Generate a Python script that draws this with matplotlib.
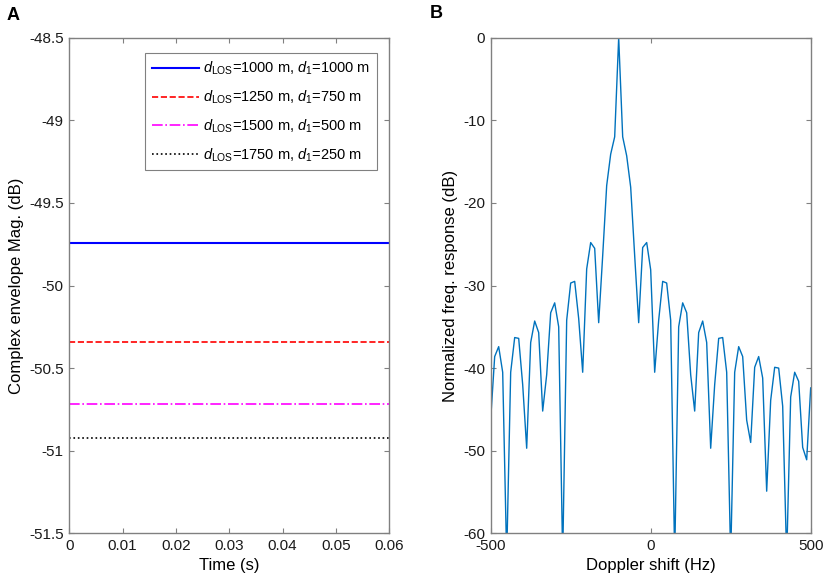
import numpy as np
import matplotlib
matplotlib.use('Agg')
import matplotlib.pyplot as plt
from matplotlib.ticker import FuncFormatter

plt.rcParams['font.family'] = ['Liberation Sans', 'DejaVu Sans']
plt.rcParams['mathtext.fontset'] = 'custom'
plt.rcParams['mathtext.rm'] = 'Liberation Sans'
plt.rcParams['mathtext.it'] = 'Liberation Sans:italic'
plt.rcParams['axes.unicode_minus'] = False

# Panel A: complex envelope magnitude, constant over time
time_s = [0.0, 0.06]
env_labels = ['$d_{\\mathrm{LOS}}$=1000 m, $d_1$=1000 m',
              '$d_{\\mathrm{LOS}}$=1250 m, $d_1$=750 m',
              '$d_{\\mathrm{LOS}}$=1500 m, $d_1$=500 m',
              '$d_{\\mathrm{LOS}}$=1750 m, $d_1$=250 m']
env_db = [-49.74, -50.34, -50.715, -50.925]

# Panel B: normalized frequency response, 12.5 Hz steps from -500 to 500 Hz
doppler_hz = np.arange(-500, 500.1, 12.5)
left_side = [-12, -14.1, -17.9, -26.4, -34.5, -25.5, -24.8, -28, -40.5, -34,
             -29.5, -29.7, -34.2, -63, -35, -32.1, -33.3, -40.8, -45.2, -35.7,
             -34.3, -36.9, -49.7, -42, -36.4, -36.3, -40.5, -63, -40.5, -37.4,
             -38.6, -46.2]
right_side = [-12, -14.3, -18.1, -26.4, -34.5, -25.4, -24.8, -28.1, -40.5, -34.2,
              -29.5, -29.7, -34.2, -63, -35, -32.1, -33.3, -40.8, -45.2, -35.7,
              -34.3, -36.9, -49.7, -42, -36.4, -36.3, -40.5, -63, -40.5, -37.4,
              -38.6, -46.3, -49, -39.9, -38.6, -41.2, -54.9, -43.9, -39.9, -40,
              -44.6, -63, -43.5, -40.5, -41.6, -49.6, -51.1, -42.4]
freq_resp_db = left_side[::-1] + [0] + right_side

fig = plt.figure(figsize=(8.29, 5.88), dpi=100)
ax1 = fig.add_axes([0.0836, 0.093, 0.386, 0.8429])
ax2 = fig.add_axes([0.5919, 0.093, 0.386, 0.8429])

axis_col = '#808080'
for ax in (ax1, ax2):
    for sp in ax.spines.values():
        sp.set_color(axis_col)
        sp.set_linewidth(1.0)
    ax.tick_params(direction='in', length=3.6, width=0.8, color=axis_col,
                   top=True, right=True, labelsize=11, labelcolor='#1a1a1a', pad=4)

styles = [dict(color='#0000ff', ls='-', lw=1.5),
          dict(color='#ff0000', ls='--', lw=1.2),
          dict(color='#ff00ff', ls='-.', lw=1.2),
          dict(color='#000000', ls=':', lw=1.2)]
for val, lab, st in zip(env_db, env_labels, styles):
    ax1.plot(time_s, [val, val], label=lab, **st)
ax1.set_xlim(0, 0.06)
ax1.set_ylim(-51.5, -48.5)
ax1.set_xticks(np.arange(0, 0.061, 0.01))
ax1.set_yticks(np.arange(-51.5, -48.4, 0.5))
ax1.xaxis.set_major_formatter(FuncFormatter(lambda v, p: '%g' % round(v, 4)))
ax1.yaxis.set_major_formatter(FuncFormatter(lambda v, p: '%g' % round(v, 4)))
ax1.set_xlabel('Time (s)', fontsize=12)
ax1.set_ylabel('Complex envelope Mag. (dB)', fontsize=12)
leg = ax1.legend(loc='upper right', bbox_to_anchor=(376.7 / 829, 1 - 53.3 / 588),
                 bbox_transform=fig.transFigure, borderaxespad=0,
                 fontsize=10.5, frameon=True, fancybox=False, borderpad=0.45,
                 handlelength=3.2, handletextpad=0.3, labelspacing=0.78,
                 edgecolor=axis_col, framealpha=1)
leg.get_frame().set_linewidth(0.8)

ax2.plot(doppler_hz, freq_resp_db, color='#0072bd', lw=1.0)
ax2.set_xlim(-500, 500)
ax2.set_ylim(-60, 0)
ax2.set_xticks([-500, 0, 500])
ax2.set_yticks(np.arange(-60, 1, 10))
ax2.set_xlabel('Doppler shift (Hz)', fontsize=12)
ax2.set_ylabel('Normalized freq. response (dB)', fontsize=12)

fig.text(13.3 / 829, 1 - 15 / 588, 'A', fontsize=13, fontweight='bold', ha='center', va='center')
fig.text(436.7 / 829, 1 - 14 / 588, 'B', fontsize=13, fontweight='bold', ha='center', va='center')

fig.savefig('out.png', dpi=100)
